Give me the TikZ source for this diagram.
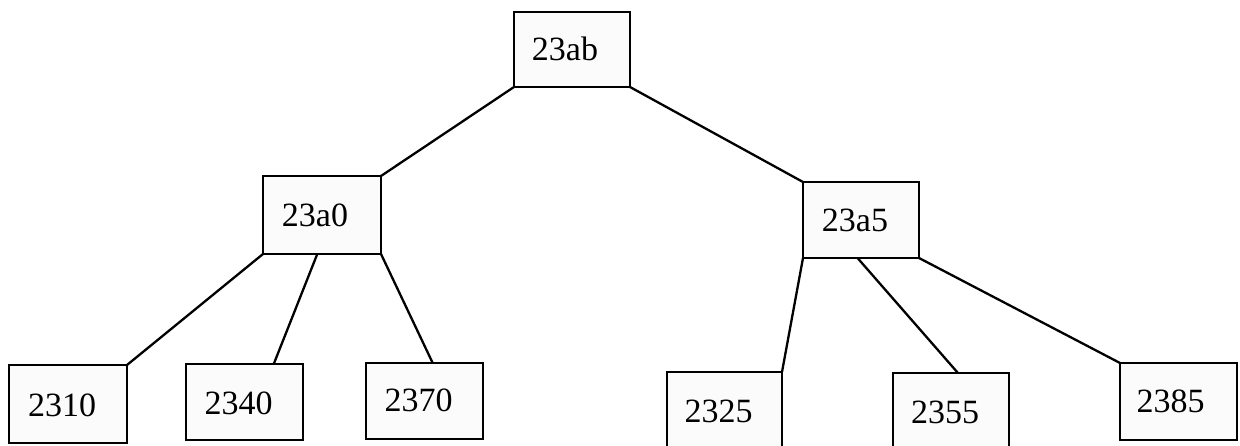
\documentclass[tikz,border=0pt]{standalone}
\usepackage{fontspec}
\setmainfont{Liberation Serif}
\usetikzlibrary{calc}
\tikzset{
  box/.style={draw=black, line width=2.3pt, fill=gray!3, inner sep=0pt, outer sep=0pt},
  lab/.style={font=\fontsize{34}{36}\selectfont, inner sep=0pt, xshift=-6pt},
  conn/.style={draw=black, line width=2.3pt}
}
\begin{document}
\begin{tikzpicture}[x=1pt,y=-1pt]
\useasboundingbox (0,0) rectangle (1240,446);
\fill[white] (0,0) rectangle (1240,446);
\node[box, minimum width=116pt, minimum height=75pt, label={[lab, xshift=-1pt, yshift=1pt]center:23ab}] (root) at (572,49.5) {};
\node[box, minimum width=118pt, minimum height=78pt, label={[lab, xshift=-1pt]center:23a0}] (a0) at (322,215) {};
\node[box, minimum width=116pt, minimum height=76pt, label={[lab]center:23a5}] (a5) at (861,220) {};
\node[box, minimum width=118pt, minimum height=78pt, label={[lab, yshift=-1pt]center:2310}] (n2310) at (68,404) {};
\node[box, minimum width=117pt, minimum height=76pt, label={[lab, yshift=-1pt]center:2340}] (n2340) at (244.5,402) {};
\node[box, minimum width=117pt, minimum height=76pt, label={[lab, yshift=1pt]center:2370}] (n2370) at (424.5,401) {};
\node[box, minimum width=115pt, minimum height=78pt, label={[lab]center:2325}] (n2325) at (724.5,411) {};
\node[box, minimum width=116pt, minimum height=78pt, label={[lab]center:2355}] (n2355) at (951,412) {};
\node[box, minimum width=117pt, minimum height=77pt, label={[lab, xshift=-2pt]center:2385}] (n2385) at (1178.5,401.5) {};
\coordinate (a0m) at ($(a0.south west)!0.46!(a0.south east)$);
\coordinate (n2340t) at ($(n2340.north west)!0.75!(n2340.north east)$);
\coordinate (n2370t) at ($(n2370.north west)!0.57!(n2370.north east)$);
\coordinate (a5m) at ($(a5.south west)!0.47!(a5.south east)$);
\coordinate (n2355t) at ($(n2355.north west)!0.56!(n2355.north east)$);
\draw[conn] (root.south west) -- (a0.north east);
\draw[conn] (root.south east) -- (a5.north west);
\draw[conn] (a0.south west) -- (n2310.north east);
\draw[conn] (a0m) -- (n2340t);
\draw[conn] (a0.south east) -- (n2370t);
\draw[conn] (a5.south west) -- (n2325.north east);
\draw[conn] (a5m) -- (n2355t);
\draw[conn] (a5.south east) -- (n2385.north west);
\end{tikzpicture}
\end{document}
